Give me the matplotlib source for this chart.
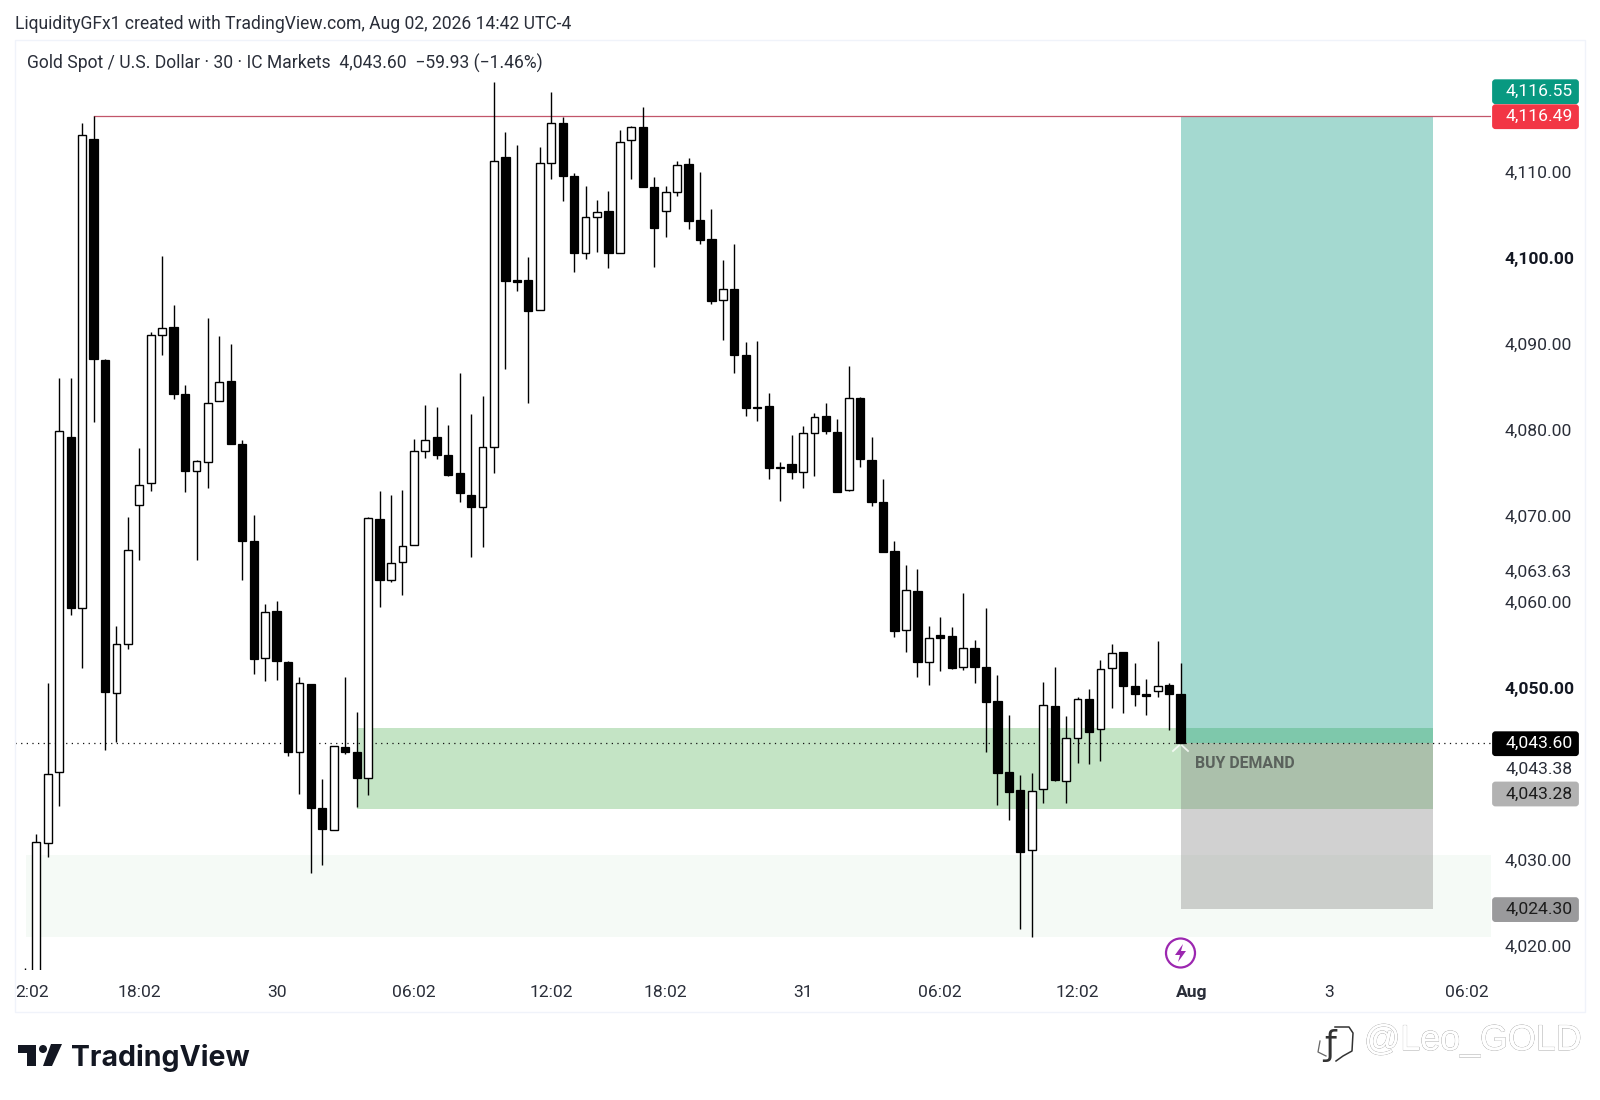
import matplotlib

matplotlib.use("Agg")
import matplotlib.patheffects as pe
import numpy as np
from matplotlib import pyplot as plt
from matplotlib.patches import Circle, FancyBboxPatch, Polygon, Rectangle

plt.rcParams["font.family"] = ["Roboto", "DejaVu Sans"]

# 30 minute candles, first one sits just off the bottom of the pane
opens = [
    4015.0, 4010.0, 4031.93, 4040.18, 4079.12, 4059.28, 4113.76, 4088.11, 4049.36, 4055.14,
    4071.22, 4073.77, 4090.98, 4091.98, 4084.2, 4075.25, 4076.25, 4083.31, 4085.7, 4078.35,
    4067.07, 4053.47, 4058.97, 4053.04, 4042.5, 4050.49, 4036.03, 4033.44, 4043.09, 4042.58,
    4039.52, 4069.63, 4062.54, 4064.59, 4066.6, 4077.57, 4079.2, 4077.03, 4074.94, 4072.46,
    4071.06, 4077.96, 4111.67, 4097.41, 4097.37, 4093.92, 4111.05, 4115.7, 4109.46, 4100.51,
    4104.73, 4105.39, 4100.59, 4113.64, 4115.15, 4108.26, 4105.39, 4107.6, 4110.85, 4104.38,
    4102.17, 4095.05, 4096.36, 4088.69, 4082.65, 4082.76, 4075.71, 4076.06, 4075.14, 4079.67,
    4081.57, 4079.79, 4073.0, 4083.74, 4076.45, 4071.61, 4065.88, 4056.69, 4061.3, 4052.97,
    4056.11, 4056.07, 4052.43, 4054.6, 4052.43, 4048.44, 4040.18, 4038.13, 4031.12, 4038.21,
    4047.86, 4039.21, 4044.21, 4048.71, 4045.18, 4052.27, 4054.17, 4050.26, 4049.25, 4049.6,
    4050.3, 4049.25,
]
highs = [
    4017.4, 4033.0, 4050.53, 4086.06, 4086.06, 4115.62, 4116.49, 4088.2, 4057.19, 4069.82,
    4077.84, 4091.4, 4100.2, 4094.5, 4085.2, 4076.5, 4092.95, 4090.9, 4089.93, 4078.81,
    4070.09, 4059.8, 4060.1, 4053.1, 4051.22, 4050.5, 4039.41, 4043.3, 4051.22, 4047.15,
    4069.9, 4072.88, 4072.42, 4073.0, 4078.93, 4082.88, 4082.69, 4080.56, 4086.64, 4081.79,
    4083.96, 4120.38, 4114.65, 4113.14, 4100.12, 4112.83, 4119.22, 4116.4, 4109.8, 4108.33,
    4106.71, 4107.75, 4114.84, 4115.3, 4117.48, 4109.42, 4108.33, 4111.24, 4111.63, 4110.0,
    4105.66, 4099.73, 4101.59, 4090.2, 4090.32, 4084.24, 4076.29, 4079.39, 4080.44, 4082.0,
    4083.16, 4081.22, 4087.46, 4083.8, 4079.13, 4074.28, 4067.08, 4064.29, 4063.82, 4057.2,
    4058.24, 4057.04, 4061.03, 4055.57, 4059.29, 4051.5, 4046.85, 4039.87, 4040.07, 4050.72,
    4052.39, 4046.73, 4048.98, 4049.87, 4053.24, 4055.1, 4054.2, 4052.85, 4051.0, 4055.49,
    4050.53, 4052.93,
]
lows = [
    4005.0, 4005.0, 4030.38, 4036.27, 4058.47, 4052.35, 4080.94, 4042.78, 4043.75, 4054.52,
    4064.86, 4072.92, 4088.73, 4083.54, 4072.73, 4064.86, 4073.27, 4083.31, 4078.38, 4062.54,
    4051.57, 4050.83, 4050.95, 4042.08, 4037.66, 4028.52, 4029.41, 4033.44, 4042.27, 4036.11,
    4037.55, 4059.44, 4062.34, 4060.8, 4066.6, 4076.68, 4076.56, 4074.63, 4071.64, 4065.2,
    4066.4, 4074.94, 4087.1, 4096.13, 4083.15, 4093.92, 4109.15, 4106.55, 4098.38, 4099.85,
    4100.7, 4098.76, 4100.59, 4109.19, 4108.18, 4098.96, 4102.45, 4107.17, 4103.34, 4101.55,
    4094.62, 4090.43, 4086.56, 4081.64, 4081.02, 4074.24, 4071.76, 4074.24, 4073.28, 4074.67,
    4079.48, 4072.77, 4072.85, 4075.72, 4071.18, 4065.8, 4055.96, 4054.17, 4051.23, 4050.3,
    4051.97, 4052.2, 4052.08, 4050.61, 4042.59, 4036.39, 4034.64, 4021.97, 4021.0, 4036.58,
    4039.14, 4036.58, 4041.23, 4041.15, 4041.46, 4047.62, 4047.04, 4047.93, 4046.85, 4048.9,
    4045.1, 4043.6,
]
closes = [
    4010.0, 4032.12, 4039.99, 4079.86, 4059.32, 4114.22, 4088.19, 4049.48, 4055.14, 4065.98,
    4073.54, 4090.98, 4091.87, 4084.16, 4075.25, 4076.33, 4083.15, 4085.59, 4078.38, 4067.11,
    4053.35, 4058.86, 4053.12, 4042.5, 4050.53, 4036.07, 4033.55, 4043.2, 4042.54, 4039.48,
    4069.71, 4062.54, 4064.55, 4066.53, 4077.57, 4078.77, 4077.07, 4074.78, 4072.69, 4071.06,
    4077.96, 4111.2, 4097.33, 4097.18, 4093.8, 4110.97, 4115.66, 4109.5, 4100.51, 4104.69,
    4105.35, 4100.55, 4113.45, 4115.15, 4108.18, 4103.41, 4107.6, 4110.81, 4104.3, 4102.1,
    4095.01, 4096.32, 4088.73, 4082.53, 4082.49, 4075.6, 4075.6, 4075.09, 4079.59, 4081.53,
    4079.86, 4072.77, 4083.7, 4076.65, 4071.61, 4065.8, 4056.62, 4061.34, 4053.05, 4055.76,
    4055.8, 4052.35, 4054.6, 4052.43, 4048.36, 4040.15, 4037.9, 4030.92, 4037.97, 4048.01,
    4039.29, 4044.14, 4048.67, 4044.87, 4052.16, 4054.09, 4050.26, 4049.25, 4049.1, 4050.18,
    4049.25, 4043.6,
]

last_price = 4043.60
target_price = 4116.49
stop_price = 4024.30
demand_zone = [4045.3, 4035.92]
lower_zone = [4030.57, 4021.08]

price_ticks = [4110, 4100, 4090, 4080, 4070, 4063.63, 4060, 4050, 4030, 4020]
bold_prices = [4100, 4050]
time_ticks = [-0.4, 9, 21, 33, 45, 55, 67, 79, 91, 101, 113, 125]
time_labels = ["2:02", "18:02", "30", "06:02", "12:02", "18:02", "31", "06:02", "12:02", "Aug", "3", "06:02"]

WIDTH, HEIGHT = 1600, 1100
PANE = (15.3, 40, 1491, 970)  # left, top, right, bottom in pixels

fig = plt.figure(figsize=(WIDTH / 100, HEIGHT / 100), dpi=100, facecolor="white")
ax = fig.add_axes([
    PANE[0] / WIDTH,
    1 - PANE[3] / HEIGHT,
    (PANE[2] - PANE[0]) / WIDTH,
    (PANE[3] - PANE[1]) / HEIGHT,
])
ax.set_xlim(-1.836, 127.13)
ax.set_ylim(4017.21, 4125.31)
for spine in ax.spines.values():
    spine.set_visible(False)

# zones and the long position box
ax.add_patch(Rectangle((-0.9, lower_zone[1]), 129, lower_zone[0] - lower_zone[1],
                       fc=(76 / 255, 175 / 255, 80 / 255, 0.05), ec="none", zorder=1))
ax.add_patch(Rectangle((28, demand_zone[1]), 94.07, demand_zone[0] - demand_zone[1],
                       fc=(76 / 255, 175 / 255, 80 / 255, 0.33), ec="none", zorder=1))
ax.add_patch(Rectangle((100, last_price), 22.07, target_price - last_price,
                       fc=(8 / 255, 153 / 255, 129 / 255, 0.37), ec="none", zorder=1.2))
ax.add_patch(Rectangle((100, stop_price), 22.07, last_price - stop_price,
                       fc=(125 / 255, 125 / 255, 125 / 255, 0.35), ec="none", zorder=1.2))

ax.plot([5, 128], [target_price, target_price], color="#c2566a", lw=0.9, zorder=1.5)
ax.axhline(last_price, color="#111111", lw=0.9, ls=(0, (1, 3.5)), zorder=1.6)

x = np.arange(-1, len(opens) - 1)
o, h, l, c = map(np.array, (opens, highs, lows, closes))
is_up = c > o
ax.vlines(x, l, h, color="black", lw=1.0, zorder=2)
ax.bar(x[is_up], (c - o)[is_up], bottom=o[is_up], width=0.68, fc="white", ec="black", lw=1.0, zorder=3)
ax.bar(x[~is_up], (c - o)[~is_up], bottom=o[~is_up], width=0.72, fc="black", ec="black", lw=0.9, zorder=3)

ax.yaxis.tick_right()
ax.set_yticks(price_ticks)
ax.set_yticklabels([f"{p:,.2f}" for p in price_ticks])
ax.tick_params(axis="y", length=0, pad=9.6, labelsize=12.6, labelcolor="#2a2e39")
for tick, p in zip(ax.get_yticklabels(), price_ticks):
    if p in bold_prices:
        tick.set_fontweight("bold")
        tick.set_color("#131722")

ax.set_xticks(time_ticks)
ax.set_xticklabels(time_labels)
ax.tick_params(axis="x", length=0, pad=10.7, labelsize=12.6, labelcolor="#2a2e39")
for tick, name in zip(ax.get_xticklabels(), time_labels):
    if name == "Aug":
        tick.set_fontweight("bold")

# page furniture goes on an overlay in pixel coordinates
over = fig.add_axes([0, 0, 1, 1], facecolor="none", zorder=5)
over.set_xlim(0, WIDTH)
over.set_ylim(HEIGHT, 0)
over.axis("off")

over.add_patch(Rectangle((15.3, 40), 1569.7, 972, fc="none", ec="#f0f3fa", lw=1))

over.text(15, 24, "LiquidityGFx1 created with TradingView.com, Aug 02, 2026 14:42 UTC-4",
          fontsize=12.63, color="#2a2e39", va="center")
over.text(27, 63, "Gold Spot / U.S. Dollar · 30 · IC Markets  4,043.60  −59.93 (−1.46%)",
          fontsize=12.63, color="#2a2e39", va="center")
over.text(1195, 764, "BUY DEMAND", fontsize=11.45, fontweight="bold", color="#5a625c", va="center")

# price tags on the right, some are pushed off their price so they do not overlap
tags = [
    ("4,116.55", 91.7, "#089981", "white"),
    ("4,116.49", 116.7, "#f23645", "white"),
    ("4,043.60", 743.7, "#000000", "white"),
    ("4,043.28", 794, "#b2b2b2", "#1c1c1c"),
    ("4,024.30", 909.6, "#9a9a9c", "#1c1c1c"),
]
for text, yc, bg, fg in tags:
    over.add_patch(FancyBboxPatch((1493.5, yc - 11), 84, 22, boxstyle="round,pad=0,rounding_size=2",
                                  fc=bg, ec=bg, lw=2))
    over.text(1572.5, yc, text, fontsize=12.6, color=fg, ha="right", va="center")
over.text(1572.5, 769, "4,043.38", fontsize=12.6, color="#2a2e39", ha="right", va="center")

# mouse cursor tick under the last candle
over.plot([1173, 1179], [751, 745.5], color="white", lw=1.3, alpha=0.8)
over.plot([1182, 1188], [745.5, 751], color="white", lw=1.3, alpha=0.8)

# lightning badge
over.add_patch(Circle((1180.5, 953), 14.5, fc="white", ec="#9c27b0", lw=1.6))
over.add_patch(Polygon([(1183, 944), (1175, 955), (1180, 955), (1178, 962), (1186, 951), (1181, 951)],
                       closed=True, fc="#9c27b0", ec="none"))

# TradingView logo
over.add_patch(Polygon([(18, 1045), (36, 1045), (36, 1066), (27, 1066), (27, 1053), (18, 1053)],
                       closed=True, fc="#131722", ec="none"))
over.add_patch(Circle((43, 1049), 4, fc="#131722", ec="none"))
over.add_patch(Polygon([(51, 1044), (62, 1044), (52, 1066), (43, 1066)], closed=True, fc="#131722", ec="none"))
over.text(71.5, 1065.7, "TradingView", fontsize=20.5, fontweight="bold", color="#131722",
          family=["Inter", "DejaVu Sans"], va="baseline")

# embossed watermark bottom right
emboss = [pe.withStroke(linewidth=0.6, foreground="#999999"), pe.Normal()]
over.text(1364, 1050, "@Leo_GOLD", fontsize=25.8, color="white", va="baseline",
          family=["Liberation Sans", "DejaVu Sans"], path_effects=emboss)
over.text(1330, 1046, "ƒ", fontsize=24, color="#333333", ha="center", va="center", family=["DejaVu Sans"])
over.plot([1335, 1349, 1353, 1352, 1343, 1336], [1027, 1027, 1033, 1051, 1056, 1061], color="#333333", lw=1.1)
over.plot([1320, 1318, 1326], [1041, 1052, 1056], color="#666666", lw=0.9)

fig.savefig("out.png", dpi=100, facecolor="white")
